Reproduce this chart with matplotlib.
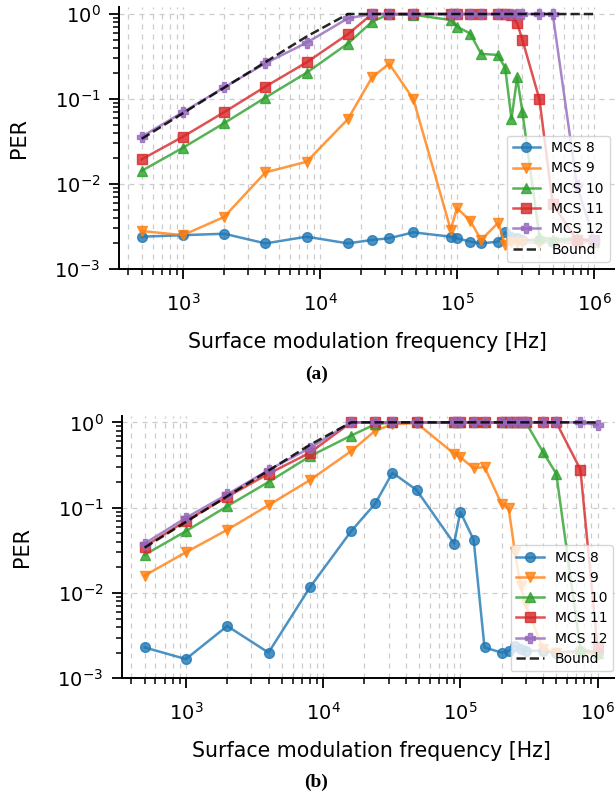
import matplotlib
matplotlib.use("Agg")
import matplotlib.pyplot as plt
import numpy as np

# Surface modulation frequencies (Hz) shared by every curve
freqs = [500, 1000, 2000, 4000, 8000, 16000, 24000, 32000, 48000, 90000,
         100000, 125000, 150000, 200000, 225000, 250000, 275000, 300000,
         400000, 500000, 750000, 1000000]

# Panel (a)
mcs8_a = [0.0024, 0.0025, 0.0026, 0.0020, 0.0024, 0.0020, 0.0022, 0.0023, 0.0027, 0.0024,
          0.0023, 0.0021, 0.0020, 0.0021, 0.0027, 0.0024, 0.0023, 0.0022, 0.0022, 0.0021,
          0.0022, 0.0022]
mcs9_a = [0.0028, 0.0025, 0.0041, 0.0137, 0.0183, 0.058, 0.18, 0.26, 0.10, 0.0029,
          0.0052, 0.0037, 0.0022, 0.0035, 0.0019, 0.0021, 0.0020, 0.0021, 0.0020, 0.0021,
          0.0020, 0.0021]
mcs10_a = [0.0143, 0.0267, 0.052, 0.104, 0.204, 0.45, 0.81, 1.0, 0.98, 0.85,
           0.71, 0.59, 0.34, 0.33, 0.23, 0.058, 0.18, 0.071, 0.0024, 0.0022,
           0.0023, 0.0021]
mcs11_a = [0.0195, 0.036, 0.070, 0.14, 0.27, 0.58, 1.0, 1.0, 1.0, 1.0,
           1.0, 1.0, 1.0, 1.0, 1.0, 0.97, 0.78, 0.50, 0.099, 0.0058,
           0.0022, 0.0022]
mcs12_a = [0.036, 0.070, 0.137, 0.263, 0.46, 0.89, 1.0, 1.0, 1.0, 1.0,
           1.0, 1.0, 1.0, 1.0, 1.0, 1.0, 1.0, 1.0, 1.0, 1.0,
           0.0097, 0.0022]

# Panel (b)
mcs8_b = [0.0023, 0.00168, 0.0041, 0.0020, 0.0116, 0.053, 0.112, 0.257, 0.161, 0.038,
          0.0895, 0.042, 0.0023, 0.0020, 0.0021, 0.0024, 0.0022, 0.0021, 0.0021, 0.0020,
          0.0021, 0.0020]
mcs9_b = [0.016, 0.030, 0.055, 0.107, 0.21, 0.46, 0.80, 0.95, 0.98, 0.43,
          0.39, 0.29, 0.30, 0.11, 0.098, 0.030, 0.012, 0.0074, 0.0022, 0.0020,
          0.0020, 0.0019]
mcs10_b = [0.028, 0.053, 0.104, 0.20, 0.40, 0.70, 0.95, 1.0, 1.0, 1.0,
           1.0, 1.0, 1.0, 1.0, 1.0, 1.0, 1.0, 1.0, 0.45, 0.25,
           0.0022, 0.0020]
mcs11_b = [0.035, 0.070, 0.134, 0.25, 0.44, 1.0, 1.0, 1.0, 1.0, 1.0,
           1.0, 1.0, 1.0, 1.0, 1.0, 1.0, 1.0, 1.0, 1.0, 1.0,
           0.28, 0.0023]
mcs12_b = [0.038, 0.076, 0.143, 0.276, 0.50, 1.0, 1.0, 1.0, 1.0, 1.0,
           1.0, 1.0, 1.0, 1.0, 1.0, 1.0, 1.0, 1.0, 1.0, 1.0,
           1.0, 0.93]

# Theoretical bound
bound = [0.034, 0.068, 0.136, 0.272, 0.544, 1.0, 1.0, 1.0, 1.0, 1.0,
         1.0, 1.0, 1.0, 1.0, 1.0, 1.0, 1.0, 1.0, 1.0, 1.0,
         1.0, 1.0]

labels = ["MCS 8", "MCS 9", "MCS 10", "MCS 11", "MCS 12"]
markers = ["o", "v", "^", "s", "P"]
colors = ["#1f77b4", "#ff7f0e", "#2ca02c", "#d62728", "#9467bd"]

W, H = 615, 797
fig = plt.figure(figsize=(W / 100, H / 100), dpi=100)


def px_axes(left, right, top, bottom):
    return fig.add_axes([left / W, 1 - bottom / H, (right - left) / W, (bottom - top) / H])


def draw(ax, series, caption, cap_xy):
    for ys, lab, mk, c in zip(series, labels, markers, colors):
        ax.plot(freqs, ys, marker=mk, color=c, label=lab, lw=1.8, ms=7,
                alpha=0.8, zorder=3)
    ax.plot(freqs, bound, ls="--", color="black", lw=1.8, label="Bound",
            alpha=0.85, zorder=4)
    ax.set_xscale("log")
    ax.set_yscale("log")
    ax.set_xlim(10 ** 2.535, 10 ** 6.165)
    ax.set_ylim(1e-3, 1.2)
    ax.grid(True, which="both", axis="x", ls=(0, (4, 4)), color="#cccccc", lw=0.9)
    ax.grid(True, which="major", axis="y", ls=(0, (4, 4)), color="#cccccc", lw=0.9)
    ax.set_axisbelow(True)
    for s in ["top", "right"]:
        ax.spines[s].set_visible(False)
    for s in ["left", "bottom"]:
        ax.spines[s].set_linewidth(1.4)
    ax.tick_params(which="major", length=7.5, width=1.3, labelsize=14)
    ax.tick_params(axis="x", which="major", pad=9.5)
    ax.tick_params(axis="y", which="major", pad=6)
    ax.tick_params(which="minor", length=4.5, width=1.1)
    ax.set_xlabel("Surface modulation frequency [Hz]", fontsize=14.8, labelpad=12.5)
    ax.set_ylabel("PER", fontsize=15, labelpad=18)
    leg = ax.legend(loc="lower right", fontsize=10, framealpha=0.8,
                    edgecolor="#cccccc", handlelength=2.0, borderpad=0.4,
                    labelspacing=0.45)
    leg.get_frame().set_linewidth(1.0)
    fig.text(cap_xy[0] / W, 1 - cap_xy[1] / H, caption, ha="center", va="center",
             fontsize=14, fontweight="bold", family=["Liberation Serif", "DejaVu Serif"])


ax_a = px_axes(119.2, 616.6, 7.3, 269.0)
draw(ax_a, [mcs8_a, mcs9_a, mcs10_a, mcs11_a, mcs12_a], "(a)", (316.7, 374))

ax_b = px_axes(122.1, 620.2, 415.6, 678.3)
draw(ax_b, [mcs8_b, mcs9_b, mcs10_b, mcs11_b, mcs12_b], "(b)", (315.7, 782))

fig.savefig("out.png", dpi=100)
